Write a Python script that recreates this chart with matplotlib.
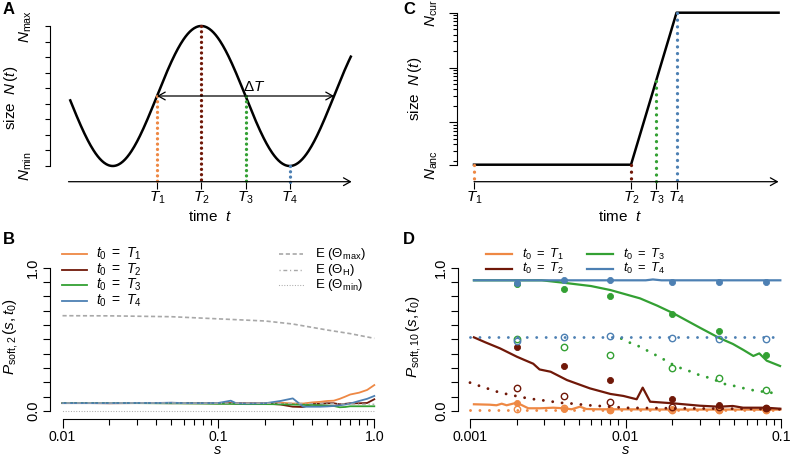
import numpy as np
import matplotlib
matplotlib.use("Agg")
import matplotlib.pyplot as plt
from matplotlib.lines import Line2D
from matplotlib.ticker import FixedLocator, NullFormatter

W, H = 797, 457

plt.rcParams["font.family"] = ["Liberation Sans", "DejaVu Sans"]
plt.rcParams["mathtext.fontset"] = "custom"
plt.rcParams["mathtext.rm"] = "Liberation Sans"
plt.rcParams["mathtext.it"] = "Liberation Sans:italic"
plt.rcParams["mathtext.bf"] = "Liberation Sans:bold"
plt.rcParams["lines.scale_dashes"] = False
plt.rcParams["font.size"] = 10

COLS = ["#EE8844", "#701808", "#33A033", "#4D80B3"]
GRAY = "#A8A8A8"
T_LABELS = [r"$T_1$", r"$T_2$", r"$T_3$", r"$T_4$"]
LEG_LABELS = [r"$t_0\ =\ T_1$", r"$t_0\ =\ T_2$", r"$t_0\ =\ T_3$", r"$t_0\ =\ T_4$"]

# ---- panel A: cyclic population size (schematic)
a_times = [0.0, 0.25, 0.5, 0.75]
a_period = 1.0
a_curve_range = (-0.49, 1.095)
a_axis_range = (-0.50, 1.10)
a_nmin, a_nmax = 0.0, 1.0

# ---- panel C: bottleneck + expansion (schematic)
c_times = [0.0, 1.0, 1.16, 1.29]
c_end = 1.94
c_nanc, c_ncur = 170.0, 1.0e5

# ---- panel B data
b_s = [0.01, 0.015, 0.02, 0.03, 0.04, 0.05, 0.06, 0.08, 0.1, 0.12, 0.13, 0.15, 0.2,
       0.25, 0.3, 0.35, 0.4, 0.45, 0.5, 0.55, 0.6, 0.65, 0.7, 0.8, 0.9, 1.0]
b_t1 = [0.055, 0.056, 0.055, 0.056, 0.055, 0.057, 0.054, 0.055, 0.054, 0.053, 0.053, 0.052, 0.052,
        0.058, 0.052, 0.052, 0.060, 0.064, 0.070, 0.072, 0.085, 0.100, 0.115, 0.128, 0.147, 0.181]
b_t2 = [0.055, 0.055, 0.054, 0.055, 0.055, 0.054, 0.055, 0.054, 0.054, 0.054, 0.053, 0.053, 0.052,
        0.045, 0.030, 0.028, 0.048, 0.050, 0.054, 0.054, 0.047, 0.050, 0.054, 0.054, 0.056, 0.082]
b_t3 = [0.055, 0.055, 0.055, 0.055, 0.054, 0.054, 0.053, 0.052, 0.050, 0.050, 0.049, 0.048, 0.048,
        0.047, 0.045, 0.043, 0.042, 0.040, 0.038, 0.035, 0.026, 0.028, 0.033, 0.033, 0.033, 0.033]
b_t4 = [0.055, 0.055, 0.055, 0.056, 0.056, 0.058, 0.055, 0.055, 0.056, 0.072, 0.054, 0.052, 0.054,
        0.070, 0.088, 0.030, 0.030, 0.030, 0.032, 0.035, 0.040, 0.045, 0.052, 0.070, 0.085, 0.105]
b_e_s = [0.01, 0.02, 0.05, 0.1, 0.2, 0.3, 0.5, 0.7, 1.0]
b_emax = [0.665, 0.664, 0.658, 0.643, 0.628, 0.607, 0.565, 0.540, 0.507]
b_eh = [0.056, 0.056, 0.056, 0.055, 0.054, 0.053, 0.051, 0.049, 0.047]
b_emin = [0.003] * 9

# ---- panel D data (lines)
d_t1_s = [0.00106, 0.00134, 0.00148, 0.0016, 0.00172, 0.002, 0.00237, 0.00282, 0.00343, 0.004,
          0.0045, 0.0051, 0.0056, 0.0065, 0.0092, 0.02, 0.04, 0.06, 0.08, 0.099]
d_t1 = [0.047, 0.044, 0.040, 0.051, 0.040, 0.058, 0.019, 0.019, 0.023, 0.019,
        0.012, 0.030, 0.014, 0.012, 0.012, 0.010, 0.010, 0.010, 0.009, 0.010]
d_t2_s = [0.00106, 0.00125, 0.00156, 0.002, 0.00225, 0.00255, 0.0028, 0.0033, 0.0042, 0.0059,
          0.008, 0.0097, 0.0112, 0.0118, 0.0129, 0.0144, 0.02, 0.03, 0.04, 0.049, 0.057, 0.08, 0.099]
d_t2 = [0.514, 0.480, 0.437, 0.379, 0.355, 0.330, 0.290, 0.274, 0.216, 0.158,
        0.119, 0.105, 0.088, 0.082, 0.163, 0.065, 0.054, 0.037, 0.030, 0.035, 0.023, 0.023, 0.016]
d_t3_s = [0.00106, 0.0029, 0.004, 0.006, 0.008, 0.0124, 0.016, 0.0203, 0.03, 0.04, 0.049,
          0.0573, 0.0664, 0.0725, 0.081, 0.0986]
d_t3 = [0.912, 0.912, 0.895, 0.872, 0.844, 0.786, 0.735, 0.682, 0.582, 0.510, 0.468,
        0.426, 0.384, 0.402, 0.351, 0.314]
d_t4_s = [0.00106, 0.005, 0.01, 0.0135, 0.015, 0.017, 0.02, 0.05, 0.099]
d_t4 = [0.912, 0.912, 0.912, 0.912, 0.918, 0.912, 0.912, 0.912, 0.912]

# dotted lines
d_dot_t1_s = [0.001, 0.099]
d_dot_t1 = [0.007, 0.007]
d_dot_t2_s = [0.001, 0.00116, 0.00133, 0.00154, 0.00176, 0.00207, 0.00237, 0.00278, 0.0032, 0.0037,
              0.0043, 0.005, 0.0058, 0.0068, 0.008, 0.01, 0.02, 0.05, 0.099]
d_dot_t2 = [0.198, 0.174, 0.153, 0.130, 0.116, 0.100, 0.088, 0.077, 0.070, 0.058,
            0.054, 0.047, 0.040, 0.035, 0.030, 0.022, 0.019, 0.016, 0.012]
d_dot_t3_s = [0.0094, 0.0109, 0.0127, 0.0144, 0.0164, 0.0187, 0.0213, 0.0248, 0.0285, 0.0328,
              0.0377, 0.0441, 0.0506, 0.058, 0.0681, 0.0935]
d_dot_t3 = [0.505, 0.472, 0.444, 0.410, 0.379, 0.344, 0.309, 0.286, 0.258, 0.239,
            0.216, 0.186, 0.174, 0.158, 0.142, 0.123]
d_dot_t4_s = [0.001, 0.099]
d_dot_t4 = [0.514, 0.514]

# simulation points
d_pts_s = [0.002, 0.004, 0.008, 0.02, 0.04, 0.08]
d_fill = [
    [0.058, 0.016, 0.009, 0.012, 0.008, 0.006],
    [0.444, 0.316, 0.216, 0.084, 0.045, 0.019],
    [0.885, 0.851, 0.803, 0.677, 0.558, 0.391],
    [0.891, 0.914, 0.914, 0.902, 0.902, 0.902],
]
d_open = [
    [0.014, 0.022, 0.008, 0.010, 0.008, 0.008],
    [0.158, 0.105, 0.065, 0.030, 0.030, 0.020],
    [0.500, 0.444, 0.391, 0.298, 0.228, 0.147],
    [0.490, 0.514, 0.523, 0.507, 0.500, 0.505],
]


def a_size(t):
    return a_nmin + (a_nmax - a_nmin) * (0.5 + 0.5 * np.sin(2 * np.pi * np.asarray(t) / a_period))


def c_size(t):
    t2, t4 = c_times[1], c_times[3]
    if t <= t2:
        return c_nanc
    if t >= t4:
        return c_ncur
    return c_nanc * (c_ncur / c_nanc) ** ((t - t2) / (t4 - t2))


fig = plt.figure(figsize=(W / 100, H / 100), dpi=100)


def px_axes(left, top, right, bottom):
    return fig.add_axes([left / W, 1 - bottom / H, (right - left) / W, (bottom - top) / H])


def span(p0, v0, p1, v1, lo, hi):
    k = (v1 - v0) / (p1 - p0)
    return v0 + (lo - p0) * k, v0 + (hi - p0) * k


def fx(x):
    return x / W


def fy(y):
    return 1 - y / H


def r_style(ax):
    for side in ["top", "right"]:
        ax.spines[side].set_visible(False)
    for side in ["left", "bottom"]:
        ax.spines[side].set_linewidth(0.8)
    ax.patch.set_alpha(0)


def dots(period, lw):
    return dict(linestyle=(0, (0.01, period)), dash_capstyle="round", lw=lw)


arrow_kw = dict(arrowstyle="->,head_length=0.5,head_width=0.28", lw=0.9, color="k",
                shrinkA=0, shrinkB=0, mutation_scale=10)

# ================= panel A
axA = px_axes(50, 6, 362, 181.7)
r_style(axA)
axA.spines["bottom"].set_visible(False)
axA.set_xlim(span(157, 0.0, 334, 1.0, 50, 362))
axA.set_ylim(span(166, a_nmin, 26, a_nmax, 181.7, 6))
yb = axA.get_ylim()[0]
axA.spines["left"].set_bounds(a_nmin, a_nmax)
axA.set_yticks([a_nmin, a_nmax])
axA.set_yticklabels([r"$N_{\rm min}$", r"$N_{\rm max}$"], rotation=90, va="center", fontsize=11)
axA.yaxis.set_minor_locator(FixedLocator(np.linspace(a_nmin, a_nmax, 10)[1:-1]))
axA.tick_params(axis="y", which="both", length=3.5, width=0.8, pad=8)
axA.set_xticks(a_times)
axA.set_xticklabels(T_LABELS, fontsize=11)
axA.tick_params(axis="x", length=5, width=0.8, pad=1)

tt = np.linspace(a_curve_range[0], a_curve_range[1], 400)
axA.plot(tt, a_size(tt), color="k", lw=1.8, clip_on=False)
for t, c in zip(a_times, COLS):
    axA.plot([t, t], [float(a_size(t)), yb], color=c, clip_on=False, **dots(3.8, 2.4))
axA.annotate("", xy=(a_axis_range[1], yb), xytext=(a_axis_range[0], yb),
             arrowprops=arrow_kw, annotation_clip=False)
axA.annotate("", xy=(a_times[0] + a_period, 0.5), xytext=(a_times[0], 0.5),
             arrowprops=dict(arrow_kw, arrowstyle="<->,head_length=0.5,head_width=0.28"))
axA.text(0.55, 0.565, r"$\Delta T$", ha="center", va="center", fontsize=11)

# ================= panel C
axC = px_axes(457, 5, 790, 181.7)
r_style(axC)
axC.spines["bottom"].set_visible(False)
axC.set_xlim(span(474, 0.0, 631, 1.0, 457, 790))
axC.set_yscale("log")
lo, hi = span(164.7, np.log10(c_nanc), 12.7, np.log10(c_ncur), 181.7, 5)
axC.set_ylim(10 ** lo, 10 ** hi)
yc = 10 ** lo
axC.spines["left"].set_bounds(c_nanc, c_ncur)
axC.yaxis.set_major_locator(FixedLocator([c_nanc, 1e3, 1e4, c_ncur]))
axC.yaxis.set_major_formatter(plt.FixedFormatter([r"$N_{\rm anc}$", "", "", r"$N_{\rm cur}$"]))
minor = [k * 10 ** e for e in range(2, 5) for k in range(2, 10) if c_nanc < k * 10 ** e < c_ncur]
axC.yaxis.set_minor_locator(FixedLocator(minor))
axC.yaxis.set_minor_formatter(NullFormatter())
for lab in axC.get_yticklabels():
    lab.set_rotation(90)
    lab.set_va("center")
    lab.set_fontsize(11)
axC.tick_params(axis="y", which="major", length=6, width=0.8, pad=6)
axC.tick_params(axis="y", which="minor", length=3, width=0.8)
axC.set_xticks(c_times)
axC.set_xticklabels(T_LABELS, fontsize=11)
axC.tick_params(axis="x", length=5, width=0.8, pad=1)

axC.plot([c_times[0], c_times[1], c_times[3], c_end], [c_nanc, c_nanc, c_ncur, c_ncur],
         color="k", lw=1.8, clip_on=False)
for t, c in zip(c_times, COLS):
    axC.plot([t, t], [c_size(t), yc], color=c, clip_on=False, **dots(4.8, 2.4))
axC.annotate("", xy=(c_end, yc), xytext=(c_times[0], yc), arrowprops=arrow_kw,
             annotation_clip=False)

# ================= panel B
axB = px_axes(50, 250, 392, 419)
r_style(axB)
axB.set_xscale("log")
lo, hi = span(62.5, -2, 374.3, 0, 50, 392)
axB.set_xlim(10 ** lo, 10 ** hi)
axB.set_ylim(span(411, 0, 267.7, 1, 419, 250))

# ================= panel D
axD = px_axes(457.7, 250, 792, 419)
r_style(axD)
axD.set_xscale("log")
lo, hi = span(470, -3, 781, -1, 457.7, 792)
axD.set_xlim(10 ** lo, 10 ** hi)
axD.set_ylim(span(411, 0, 267.7, 1, 419, 250))

for ax, xmaj, xlab in [(axB, [0.01, 0.1, 1.0], ["0.01", "0.1", "1.0"]),
                       (axD, [0.001, 0.01, 0.1], ["0.001", "0.01", "0.1"])]:
    ax.spines["left"].set_bounds(0, 1)
    ax.spines["bottom"].set_bounds(xmaj[0], xmaj[-1])
    ax.set_yticks([0, 1])
    ax.set_yticklabels(["0.0", "1.0"], rotation=90, va="center")
    ax.yaxis.set_minor_locator(FixedLocator(np.arange(1, 10) / 10))
    ax.tick_params(axis="y", which="both", length=5, width=0.8, pad=2, labelsize=10.5)
    ax.xaxis.set_major_locator(FixedLocator(xmaj))
    ax.xaxis.set_major_formatter(plt.FixedFormatter(xlab))
    mins = [k * x for x in xmaj[:-1] for k in range(2, 10)]
    ax.xaxis.set_minor_locator(FixedLocator(mins))
    ax.xaxis.set_minor_formatter(NullFormatter())
    ax.tick_params(axis="x", which="major", length=6.5, width=0.8, pad=1.5, labelsize=10.2)
    ax.tick_params(axis="x", which="minor", length=4.3, width=0.8)

for vals, c in zip([b_t1, b_t2, b_t3, b_t4], COLS):
    axB.plot(b_s, vals, color=c, lw=1.3)
axB.plot(b_e_s, b_emax, color=GRAY, lw=1.2, linestyle=(0, (3.0, 1.9)))
axB.plot(b_e_s, b_eh, color=GRAY, lw=1.0, linestyle=(0, (0.8, 2.0, 2.8, 2.0)))
axB.plot(b_e_s, b_emin, color=GRAY, lw=0.9, linestyle=(0, (0.01, 1.9)), dash_capstyle="round")

d_lines = [(d_t1_s, d_t1), (d_t2_s, d_t2), (d_t3_s, d_t3), (d_t4_s, d_t4)]
d_dotted = [(d_dot_t1_s, d_dot_t1), (d_dot_t2_s, d_dot_t2), (d_dot_t3_s, d_dot_t3),
            (d_dot_t4_s, d_dot_t4)]
for i, c in enumerate(COLS):
    axD.plot(d_dotted[i][0], d_dotted[i][1], color=c, **dots(6.8, 2.1))
    axD.plot(d_lines[i][0], d_lines[i][1], color=c, lw=1.6)
    axD.plot(d_pts_s, d_fill[i], "o", color=c, ms=4.4, mew=0.6)
    axD.plot(d_pts_s, d_open[i], "o", mfc="none", mec=c, ms=4.6, mew=1.0)

# ================= legends
for i, c in enumerate(COLS):
    y = 254 + 15.5 * i
    fig.add_artist(Line2D([fx(62), fx(87)], [fy(y), fy(y)], color=c, lw=1.3))
    fig.text(fx(96), fy(y), LEG_LABELS[i], va="center", ha="left", fontsize=10)

e_labels = [r"E ($\Theta_{\rm max}$)", r"E ($\Theta_{\rm H}$)", r"E ($\Theta_{\rm min}$)"]
e_styles = [dict(lw=1.2, linestyle=(0, (3.0, 1.9))),
            dict(lw=1.0, linestyle=(0, (0.8, 2.0, 2.8, 2.0))),
            dict(lw=0.9, linestyle=(0, (0.01, 1.9)), dash_capstyle="round")]
for i in range(3):
    y = 254 + 15.5 * i
    fig.add_artist(Line2D([fx(279), fx(303)], [fy(y), fy(y)], color=GRAY, **e_styles[i]))
    fig.text(fx(315), fy(y), e_labels[i], va="center", ha="left", fontsize=9.5)

for i, c in enumerate(COLS):
    x0 = 486 if i < 2 else 587
    y = 254 if i % 2 == 0 else 268.5
    fig.add_artist(Line2D([fx(x0), fx(x0 + 26)], [fy(y), fy(y)], color=c, lw=1.6))
    fig.text(fx(x0 + 36), fy(y), LEG_LABELS[i], va="center", ha="left", fontsize=9.3)

# ================= axis labels and panel letters
fig.text(fx(11), fy(98), r"size  $N\,(t)$", rotation=90, ha="center", va="center", fontsize=11)
fig.text(fx(415), fy(89), r"size  $N\,(t)$", rotation=90, ha="center", va="center", fontsize=11)
fig.text(fx(210), fy(217), r"time  $t$", ha="center", va="center", fontsize=11)
fig.text(fx(620), fy(217), r"time  $t$", ha="center", va="center", fontsize=11)
fig.text(fx(11), fy(337), r"$P_{\rm soft,2}\,(s,t_0)$", rotation=90, ha="center", va="center",
         fontsize=11)
fig.text(fx(414), fy(337), r"$P_{\rm soft,10}\,(s,t_0)$", rotation=90, ha="center",
         va="center", fontsize=11)
fig.text(fx(218), fy(456.8), r"$s$", ha="center", va="bottom", fontsize=10.5)
fig.text(fx(626), fy(456.8), r"$s$", ha="center", va="bottom", fontsize=10.5)

for lab, x, y in [("A", 3, 2), ("B", 3, 232), ("C", 403, 2), ("D", 403, 232)]:
    fig.text(fx(x), fy(y), lab, ha="left", va="top", fontsize=12, weight="bold")

fig.savefig("out.png", dpi=100)
